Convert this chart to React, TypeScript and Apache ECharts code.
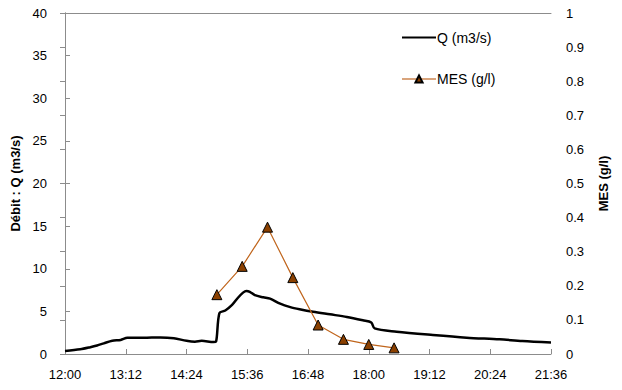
import React, { useEffect, useRef } from "react";
import * as echarts from "echarts";

// minutes since 12:00
const qTimes = [0, 18, 30, 38, 46, 56, 66, 74, 93, 113, 129, 144, 154, 162, 176, 179, 183, 190, 198, 205, 211, 215, 219, 225, 235, 243, 255, 267, 278, 294, 314, 334, 353, 363, 367, 393, 436, 476, 515, 542, 576];
const qValues = [0.35, 0.55, 0.8, 1.0, 1.25, 1.55, 1.65, 1.9, 1.9, 1.95, 1.85, 1.55, 1.45, 1.55, 1.4, 1.45, 4.8, 5.1, 5.75, 6.6, 7.2, 7.4, 7.3, 6.9, 6.65, 6.5, 5.9, 5.5, 5.25, 4.95, 4.65, 4.35, 3.95, 3.7, 3.0, 2.62, 2.23, 1.92, 1.72, 1.52, 1.35];

const mesTimes = [180, 210, 240, 270, 300, 330, 360, 390];
const mesValues = [0.174, 0.257, 0.372, 0.224, 0.085, 0.043, 0.028, 0.018];

const xTickStep = 72;
const xMax = 576;

const fmtTime = (m: number) => {
  const t = 12 * 60 + Math.round(m);
  const h = Math.floor(t / 60);
  const mm = t % 60;
  return `${h}:${mm < 10 ? "0" + mm : mm}`;
};

export default function App() {
  const ref = useRef<HTMLDivElement>(null);
  useEffect(() => {
    if (!ref.current) return;
    const chart = echarts.init(ref.current, undefined, { renderer: "svg" });
    const font = "'Liberation Sans', Arial, sans-serif";
    const axisColor = "#8c8c8c";
    chart.setOption({
      animation: false,
      textStyle: { fontFamily: font },
      grid: {
        left: 65,
        right: 71,
        top: 13,
        bottom: 36,
      },
      legend: {
        orient: "vertical",
        left: 401,
        top: 30.5,
        padding: 0,
        itemWidth: 34,
        itemHeight: 9,
        itemGap: 27.5,
        textStyle: { fontSize: 14, color: "#000", fontFamily: font, padding: [0, 0, 0, -4] },
        data: [
          { name: "Q (m3/s)", itemStyle: { opacity: 0, borderWidth: 0 } },
          { name: "MES (g/l)", lineStyle: { color: "#d9a47c" } },
        ],
      },
      xAxis: [
        {
          type: "value",
          min: 0,
          max: xMax,
          interval: xTickStep,
          splitLine: { show: false },
          axisLine: { lineStyle: { color: axisColor } },
          axisTick: { inside: true, length: 5, lineStyle: { color: axisColor } },
          axisLabel: {
            formatter: (v: number) => fmtTime(v),
            fontSize: 13,
            color: "#000",
            margin: 14,
            fontFamily: font,
          },
        },
        {
          type: "value",
          position: "top",
          min: 0,
          max: xMax,
          interval: xTickStep,
          splitLine: { show: false },
          axisLine: { show: true, onZero: false, lineStyle: { color: axisColor } },
          axisTick: { show: false },
          axisLabel: { show: false },
        },
      ],
      yAxis: [
        {
          type: "value",
          min: 0,
          max: 40,
          interval: 5,
          name: "Débit : Q (m3/s)",
          nameLocation: "middle",
          nameGap: 38,
          nameTextStyle: { fontWeight: "bold", fontSize: 13, color: "#000", fontFamily: font },
          splitLine: { show: false },
          axisLine: { show: true, lineStyle: { color: axisColor } },
          axisTick: { show: true, inside: true, length: 5, lineStyle: { color: axisColor } },
          axisLabel: { fontSize: 13, color: "#000", margin: 18, fontFamily: font },
        },
        {
          type: "value",
          min: 0,
          max: 1,
          interval: 0.1,
          position: "right",
          name: "MES (g/l)",
          nameLocation: "middle",
          nameGap: 46,
          nameTextStyle: { fontWeight: "bold", fontSize: 13, color: "#000", fontFamily: font },
          splitLine: { show: false },
          axisLine: { show: true, lineStyle: { color: axisColor } },
          axisTick: { show: true, inside: true, length: 5, lineStyle: { color: axisColor } },
          axisLabel: { fontSize: 13, color: "#000", margin: 15, fontFamily: font },
        },
      ],
      series: [
        {
          name: "Q (m3/s)",
          type: "line",
          yAxisIndex: 0,
          data: qTimes.map((t, i) => [t, qValues[i]]),
          showSymbol: false,
          symbol: "none",
          smooth: 0.3,
          lineStyle: { color: "#000", width: 2.5 },
          itemStyle: { color: "#000" },
        },
        {
          name: "MES (g/l)",
          type: "line",
          yAxisIndex: 1,
          data: mesTimes.map((t, i) => [t, mesValues[i]]),
          symbol: "triangle",
          symbolSize: 10,
          lineStyle: { color: "#c0651c", width: 1.2 },
          itemStyle: { color: "#8b4000", borderColor: "#000", borderWidth: 1 },
          z: 3,
        },
      ],
    });
    return () => chart.dispose();
  }, []);
  return (
    <div
      ref={ref}
      style={{ position: "fixed", left: 0, top: 0, width: 622, height: 390, background: "#fff" }}
    />
  );
}
